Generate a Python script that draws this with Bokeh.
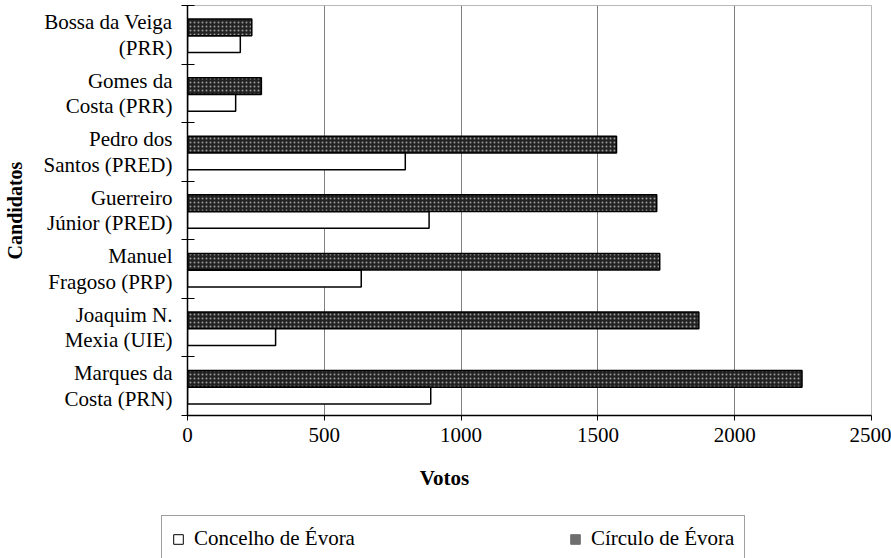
from bokeh.plotting import figure
from bokeh.layouts import column
from bokeh.models import Range1d, FixedTicker, Legend, LegendItem, Label
from bokeh.embed import file_html
from bokeh.resources import INLINE

# ---- data (top to bottom as in the chart) ----
candidatos = [
    "Bossa da Veiga\n(PRR)",
    "Gomes da\nCosta (PRR)",
    "Pedro dos\nSantos (PRED)",
    "Guerreiro\nJúnior (PRED)",
    "Manuel\nFragoso (PRP)",
    "Joaquim N.\nMexia (UIE)",
    "Marques da\nCosta (PRN)",
]
concelho_evora = [193, 176, 796, 883, 635, 322, 889]
circulo_evora = [235, 270, 1568, 1715, 1726, 1869, 2246]
x_ticks = [0, 500, 1000, 1500, 2000, 2500]
serie_labels = ["Concelho de Évora", "Círculo de Évora"]
eixo_x = "Votos"
eixo_y = "Candidatos"

n = len(candidatos)
centers = [n - i - 0.5 for i in range(n)]
y_circ = [c + 0.125 for c in centers]
y_conc = [c - 0.162 for c in centers]

FONT = "Liberation Serif"
FS = "21px"

p = figure(width=891, height=454, output_backend="svg", toolbar_location=None,
           x_range=Range1d(0, 2500), y_range=Range1d(0, n),
           min_border_left=186, min_border_right=20, min_border_top=5,
           min_border_bottom=39)

p.hbar(y=y_circ, right=circulo_evora, left=0, height=0.285,
       fill_color="#222222", hatch_pattern="dot", hatch_scale=4,
       hatch_color="#9a9a9a", line_color="black", line_width=1.5)
p.hbar(y=y_conc, right=concelho_evora, left=0, height=0.285,
       fill_color="white", line_color="black", line_width=1.5)

# x axis
p.xaxis.ticker = FixedTicker(ticks=x_ticks)
p.xaxis.major_label_text_font = FONT
p.xaxis.major_label_text_font_size = FS
p.xaxis.major_label_text_color = "black"
p.xaxis.major_tick_out = 5
p.xaxis.major_tick_in = 0
p.xaxis.minor_tick_line_color = None
p.xaxis.major_label_standoff = 7
p.xaxis.axis_line_width = 1.5
p.xaxis.axis_line_color = "black"
p.xaxis.major_tick_line_color = "black"

# y axis
p.yaxis.ticker = FixedTicker(ticks=centers, minor_ticks=list(range(n + 1)))
p.yaxis.major_label_overrides = {c: lab for c, lab in zip(centers, candidatos)}
p.yaxis.major_label_text_font = FONT
p.yaxis.major_label_text_font_size = FS
p.yaxis.major_label_text_line_height = 1.07
p.yaxis.major_label_text_color = "black"
p.yaxis.major_tick_line_color = None
p.yaxis.major_tick_out = 0
p.yaxis.major_tick_in = 0
p.yaxis.major_label_standoff = 9
p.yaxis.minor_tick_in = 7
p.yaxis.minor_tick_out = 6
p.yaxis.minor_tick_line_color = "black"
p.yaxis.minor_tick_line_width = 1
p.yaxis.axis_line_width = 1.5
p.yaxis.axis_line_color = "black"
p.yaxis.axis_label = eixo_y
p.yaxis.axis_label_text_font = FONT
p.yaxis.axis_label_text_font_size = "20px"
p.yaxis.axis_label_text_font_style = "bold"
p.yaxis.axis_label_text_color = "black"
p.yaxis.axis_label_standoff = 15

# grid / outline
p.ygrid.grid_line_color = None
p.xgrid.ticker = FixedTicker(ticks=x_ticks[1:-1])
p.xgrid.grid_line_color = "#808080"
p.xgrid.grid_line_width = 1
p.outline_line_color = "#b8b8b8"
p.outline_line_width = 1

# ---- bottom strip: axis title and legend ----
p2 = figure(width=891, height=104, output_backend="svg", toolbar_location=None,
            x_range=Range1d(-2, -1), y_range=Range1d(-2, -1),
            min_border=0, min_border_left=0, min_border_right=0,
            min_border_top=0, min_border_bottom=0)
try:
    p2.frame_align = False
except Exception:
    pass
p2.axis.visible = False
p2.grid.visible = False
p2.outline_line_color = None

# legend proxies: the same series, drawn outside this strip's visible ranges
r1 = p2.hbar(y=y_conc, right=concelho_evora, left=0, height=0.285,
             fill_color="white", line_color="black", line_width=1)
r2 = p2.hbar(y=y_circ, right=circulo_evora, left=0, height=0.285,
             fill_color="#6e6e6e", line_color="#6e6e6e", line_width=1)

p2.add_layout(Label(x=444, y=81, x_units="screen", y_units="screen",
                    text=eixo_x, text_font=FONT, text_font_size=FS,
                    text_font_style="bold", text_align="center",
                    text_baseline="middle", text_color="black"))

legend = Legend(items=[LegendItem(label=serie_labels[0], renderers=[r1]),
                       LegendItem(label=serie_labels[1], renderers=[r2])],
                orientation="horizontal", location=(161, -4),
                glyph_width=12, glyph_height=12, label_standoff=10,
                spacing=214, padding=10,
                label_text_font=FONT, label_text_font_size=FS,
                label_text_color="black",
                border_line_color="#404040", border_line_width=1,
                background_fill_color="white", background_fill_alpha=1)
p2.add_layout(legend, "center")

layout = column(p, p2, spacing=0)
open("out.html", "w").write(file_html(layout, INLINE))
